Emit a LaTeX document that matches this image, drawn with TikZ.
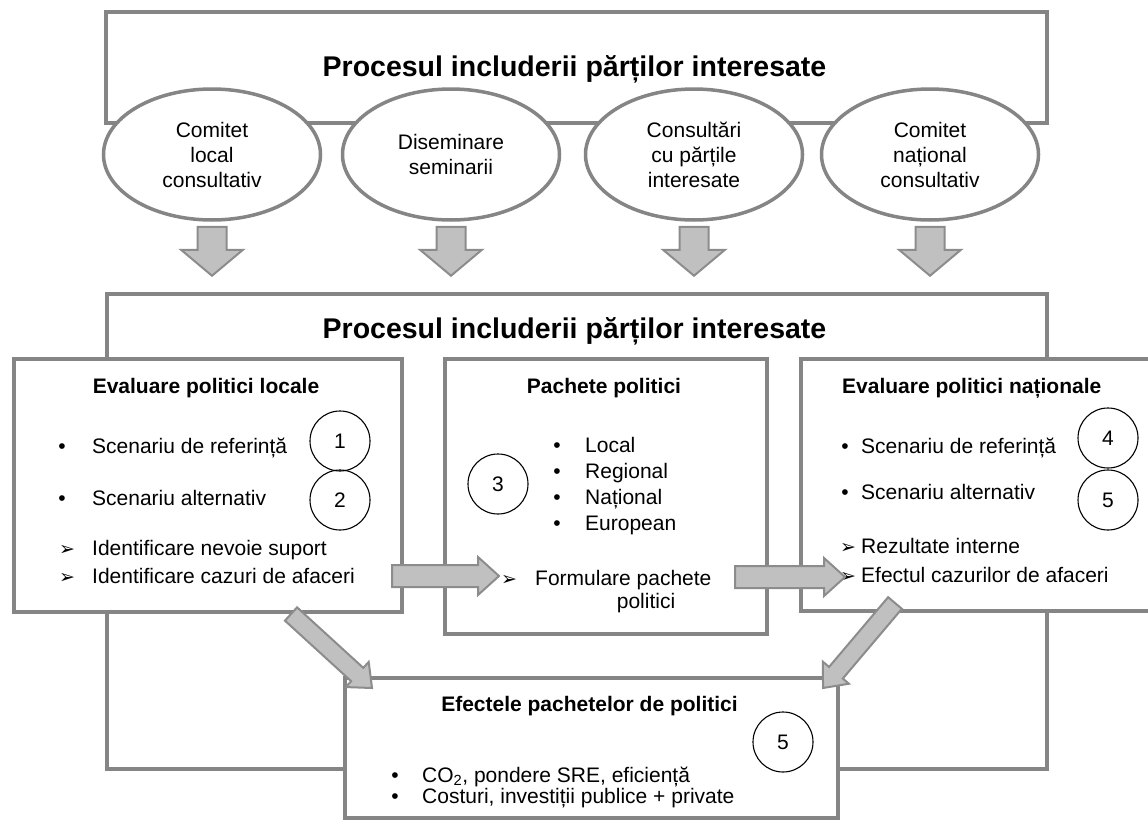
\documentclass[tikz,border=0pt]{standalone}
\usepackage{fontspec}
\setmainfont{Liberation Sans}
\newfontfamily\dingfont{DejaVu Sans}
\usetikzlibrary{shapes.geometric,calc}

% Block arrow from #1 to #2: shaft half width #3, head half width #4, head length #5
\newcommand{\blockarrow}[5]{%
  \coordinate (ba-neck) at ($(#2)!#5!(#1)$);
  \draw[fatarrow] ($(#1)!#3!90:(#2)$) -- ($(ba-neck)!#3!90:(#2)$) -- ($(ba-neck)!#4!90:(#2)$) -- (#2)
    -- ($(ba-neck)!#4!-90:(#2)$) -- ($(ba-neck)!#3!-90:(#2)$) -- ($(#1)!#3!-90:(#2)$) -- cycle;%
}

\definecolor{r133g133b133}{rgb}{0.521569,0.521569,0.521569}
\definecolor{r140g140b140}{rgb}{0.549020,0.549020,0.549020}
\definecolor{r192g192b192}{rgb}{0.752941,0.752941,0.752941}

\tikzset{
  framebox/.style={rectangle, draw=r133g133b133, line width=3.6pt, fill=white, anchor=north west, inner sep=0pt},
  bubble/.style={ellipse, draw=r133g133b133, line width=3.5pt, fill=white, minimum width=217pt, minimum height=131pt,
    inner sep=0pt, align=center, font=\fontsize{21}{25}\selectfont},
  numcircle/.style={circle, draw=black, line width=1.1pt, minimum size=60pt, inner sep=0pt, font=\fontsize{21}{25}\selectfont},
  txt/.style={anchor=base west, inner sep=0pt, font=\fontsize{21}{25}\selectfont},
  ctxt/.style={anchor=base, inner sep=0pt, font=\fontsize{21}{25}\selectfont},
  headtxt/.style={inner sep=0pt, font=\fontsize{21}{25}\selectfont\bfseries},
  titletxt/.style={anchor=base, inner sep=0pt, font=\fontsize{28.5}{34}\selectfont\bfseries},
  dot/.style={anchor=base, inner sep=0pt, font=\fontsize{21}{25}\selectfont},
  tri/.style={anchor=base west, inner sep=0pt, font=\dingfont\fontsize{19}{19}\selectfont},
  fatarrow/.style={draw=r140g140b140, fill=r192g192b192, line width=2pt, line join=miter},
}

\begin{document}
\begin{tikzpicture}[x=1pt,y=-1pt]
\useasboundingbox (0,0) rectangle (1148,819);
\clip (0,0) rectangle (1148,819);

% Drawing top frame and its title
\node[framebox, minimum width=941pt, minimum height=111pt] (topbox) at (104,10) {};
\node[titletxt] (title1) at (574.5,76) {Procesul includerii părților interesate};

% Drawing the four consultation bubbles
\node[bubble] (e1) at (212,154.5) {Comitet\\local\\consultativ};
\node[bubble] (e2) at (451,154.5) {Diseminare\\seminarii};
\node[bubble] (e3) at (694,154.5) {Consultări\\cu părțile\\interesate};
\node[bubble] (e4) at (930,154.5) {Comitet\\național\\consultativ};

% Drawing lower frame and its title
\node[framebox, minimum width=940pt, minimum height=475pt] (mainbox) at (105,292) {};
\node[titletxt] (title2) at (574.5,338) {Procesul includerii părților interesate};

% Drawing box: local policy evaluation
\node[framebox, minimum width=388pt, minimum height=253pt] (evloc) at (12,357) {};
\node[headtxt, anchor=base] (evlochead) at (206,393) {Evaluare politici locale};
\node[dot] (evlocd1) at (62,453) {•};
\node[txt] (evloct1) at (92,453) {Scenariu de referință};
\node[dot] (evlocd2) at (62,505) {•};
\node[txt] (evloct2) at (92,505) {Scenariu alternativ};
\node[tri] (evlocr1) at (59,555) {➢};
\node[txt] (evloct3) at (92,555) {Identificare nevoie suport};
\node[tri] (evlocr2) at (59,583) {➢};
\node[txt] (evloct4) at (92,583) {Identificare cazuri de afaceri};
\node[numcircle] (n1) at (340,441) {1};
\node[numcircle] (n2) at (340,500) {2};

% Drawing box: policy packages
\node[framebox, minimum width=322pt, minimum height=275pt] (pack) at (443,357) {};
\node[headtxt, anchor=base] (packhead) at (604,393) {Pachete politici};
\node[dot] (packd1) at (557,452) {•};
\node[txt] (packt1) at (585,452) {Local};
\node[dot] (packd2) at (557,478) {•};
\node[txt] (packt2) at (585,478) {Regional};
\node[dot] (packd3) at (557,504) {•};
\node[txt] (packt3) at (585,504) {Național};
\node[dot] (packd4) at (557,530) {•};
\node[txt] (packt4) at (585,530) {European};
\node[tri] (packr1) at (501,585) {➢};
\node[txt] (packt5) at (535,585) {Formulare pachete};
\node[ctxt] (packt6) at (646,608) {politici};
\node[numcircle] (n3) at (498,484) {3};

% Drawing box: national policy evaluation
\node[framebox, minimum width=370pt, minimum height=252pt] (evnat) at (799,357) {};
\node[headtxt, anchor=base west] (evnathead) at (842,393) {Evaluare politici naționale};
\node[dot] (evnatd1) at (845,453) {•};
\node[txt] (evnatt1) at (861,453) {Scenariu de referință};
\node[dot] (evnatd2) at (845,499) {•};
\node[txt] (evnatt2) at (861,499) {Scenariu alternativ};
\node[tri] (evnatr1) at (840,553) {➢};
\node[txt] (evnatt3) at (861,553) {Rezultate interne};
\node[tri] (evnatr2) at (840,582) {➢};
\node[txt] (evnatt4) at (861,582) {Efectul cazurilor de afaceri};
\node[numcircle] (n4) at (1108,438) {4};
\node[numcircle] (n5) at (1108,500) {5};

% Drawing box: effects of the policy packages
\node[framebox, minimum width=493pt, minimum height=140pt] (eff) at (343,676) {};
\node[headtxt, anchor=base] (effhead) at (589.5,711) {Efectele pachetelor de politici};
\node[dot] (effd1) at (395,782) {•};
\node[txt] (efft1) at (422,782) {CO\textsubscript{2}, pondere SRE, eficiență};
\node[dot] (effd2) at (395,803) {•};
\node[txt] (efft2) at (422,803) {Costuri, investiții publice + private};
\node[numcircle] (n6) at (783,742) {5};

% Arrow ends
\coordinate (a1s) at ($(e1.south)+(0,5)$);
\coordinate (a1e) at ($(e1.south)+(0,54)$);
\coordinate (a2s) at ($(e2.south)+(0,5)$);
\coordinate (a2e) at ($(e2.south)+(0,54)$);
\coordinate (a3s) at ($(e3.south)+(0,5)$);
\coordinate (a3e) at ($(e3.south)+(0,54)$);
\coordinate (a4s) at ($(e4.south)+(0,5)$);
\coordinate (a4e) at ($(e4.south)+(0,54)$);
\coordinate (h1s) at (392,576);
\coordinate (h1e) at (499,576);
\coordinate (h2s) at (735,577);
\coordinate (h2e) at (845,577);
\coordinate (d1s) at (291,614);
\coordinate (d1e) at (372,688);
\coordinate (d2s) at (895,603);
\coordinate (d2e) at (823,688);

% Drawing block arrows
\blockarrow{a1s}{a1e}{14.5pt}{31pt}{26pt}
\blockarrow{a2s}{a2e}{14.5pt}{31pt}{26pt}
\blockarrow{a3s}{a3e}{14.5pt}{31pt}{26pt}
\blockarrow{a4s}{a4e}{14.5pt}{31pt}{26pt}
\blockarrow{h1s}{h1e}{11pt}{19pt}{21pt}
\blockarrow{h2s}{h2e}{11pt}{19pt}{21pt}
\blockarrow{d1s}{d1e}{9pt}{17pt}{20pt}
\blockarrow{d2s}{d2e}{9pt}{17pt}{20pt}
\end{tikzpicture}
\end{document}
